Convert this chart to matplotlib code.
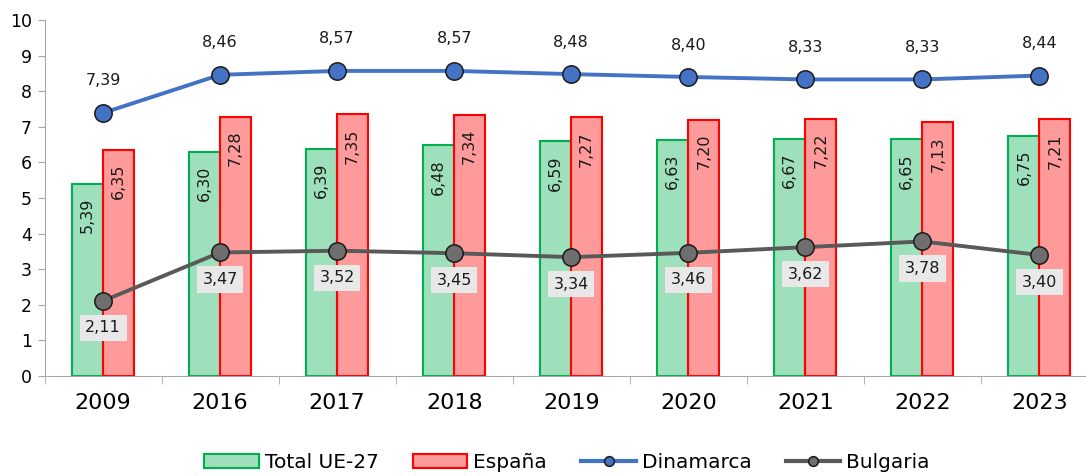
import matplotlib.pyplot as plt
import numpy as np

plt.rcParams['font.family'] = ['DejaVu Sans']

years = ['2009', '2016', '2017', '2018', '2019', '2020', '2021', '2022', '2023']
total_ue = [5.39, 6.30, 6.39, 6.48, 6.59, 6.63, 6.67, 6.65, 6.75]
espana = [6.35, 7.28, 7.35, 7.34, 7.27, 7.20, 7.22, 7.13, 7.21]
dinamarca = [7.39, 8.46, 8.57, 8.57, 8.48, 8.40, 8.33, 8.33, 8.44]
bulgaria = [2.11, 3.47, 3.52, 3.45, 3.34, 3.46, 3.62, 3.78, 3.40]


def fmt(v):
    return f'{v:.2f}'.replace('.', ',')


fig = plt.figure(figsize=(10.86, 4.76), dpi=100)
ax = fig.add_axes([0.041, 0.21, 0.970, 0.748])

x = np.arange(len(years))
w = 0.265

bars1 = ax.bar(x - w/2, total_ue, w, color='#9de0bb', edgecolor='#00b050',
               linewidth=1.5, label='Total UE-27', zorder=2)
bars2 = ax.bar(x + w/2, espana, w, color='#ff9a9a', edgecolor='#ff0000',
               linewidth=1.5, label='España', zorder=2)

ax.plot(x, dinamarca, color='#4472c4', linewidth=2.8, marker='o', markersize=12.5,
        markerfacecolor='#4472c4', markeredgecolor='#1a1a1a', markeredgewidth=1.1,
        label='Dinamarca', zorder=4)
ax.plot(x, bulgaria, color='#595959', linewidth=2.8, marker='o', markersize=12.5,
        markerfacecolor='#6e6e6e', markeredgecolor='#1a1a1a', markeredgewidth=1.1,
        label='Bulgaria', zorder=4)

# value labels inside bars (rotated)
for bars, vals in [(bars1, total_ue), (bars2, espana)]:
    for b, v in zip(bars, vals):
        ax.annotate(fmt(v), (b.get_x() + b.get_width()/2, v), xytext=(0, -10),
                    textcoords='offset points', rotation=90, ha='center',
                    va='top', fontsize=11.5, color='#1a1a1a', zorder=3)

for xi, v in zip(x, dinamarca):
    ax.annotate(fmt(v), (xi, v), xytext=(0, 23), textcoords='offset points',
                ha='center', va='center', fontsize=11.5, color='#1a1a1a')

for xi, v in zip(x, bulgaria):
    ax.annotate(fmt(v), (xi, v), xytext=(0, -19.5), textcoords='offset points',
                ha='center', va='center', fontsize=11.5, color='#1a1a1a', zorder=5,
                bbox=dict(boxstyle='square,pad=0.35', facecolor='#e8e8e8',
                          edgecolor='none'))

ax.set_xlim(-0.5, len(years) - 0.5)
ax.set_ylim(0, 10)
ax.set_yticks(range(0, 11))
ax.set_xticks(x)
ax.set_xticklabels(years, fontsize=16)
ax.tick_params(axis='x', length=0, pad=12)
ax.set_xticks(np.arange(-0.5, len(years)), minor=True)
ax.tick_params(axis='x', which='minor', length=6, color='#a6a6a6')
ax.tick_params(axis='y', labelsize=12.5, length=5, color='#a6a6a6', pad=4)

for s in ['top', 'right']:
    ax.spines[s].set_visible(False)
ax.spines['left'].set_color('#a6a6a6')
ax.spines['bottom'].set_color('#a6a6a6')

# legend order: bars first, then lines
handles, labels = ax.get_legend_handles_labels()
order = [labels.index(n) for n in ['Total UE-27', 'España', 'Dinamarca', 'Bulgaria']]
leg = ax.legend([handles[i] for i in order], [labels[i] for i in order],
                loc='center', bbox_to_anchor=(0.496, -0.244), ncol=4,
                frameon=False, fontsize=14.5, handlelength=2.7, handletextpad=0.3,
                columnspacing=1.7)
for ln in leg.get_lines():
    ln.set_markersize(7)
    ln.set_linewidth(3)

fig.savefig('out.png', dpi=100)
